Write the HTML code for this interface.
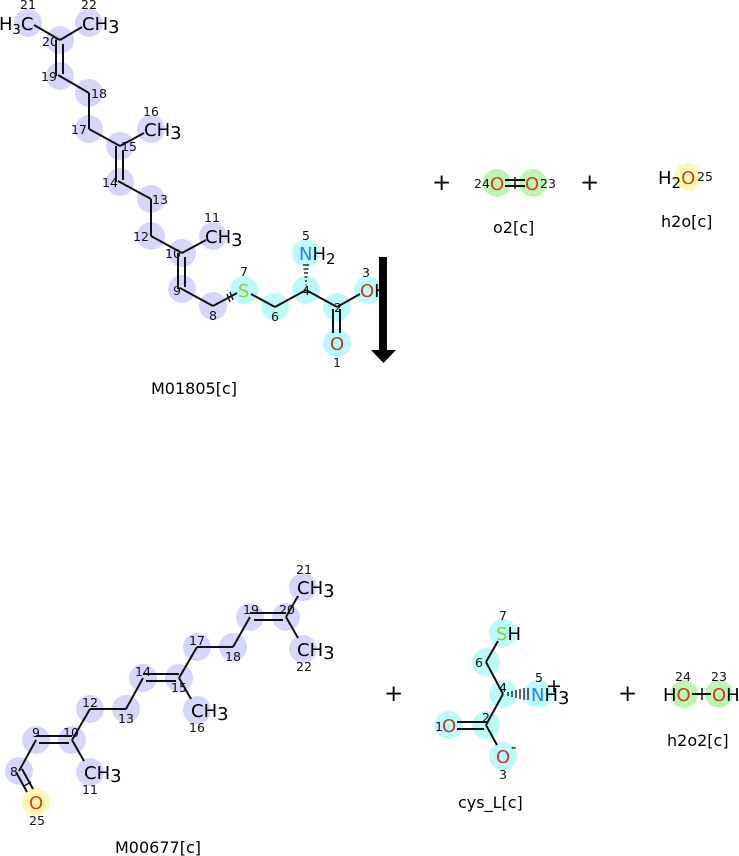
<!DOCTYPE html>
<html><head><meta charset="utf-8"><style>
html,body{margin:0;padding:0;background:#fff;width:739px;height:856px;overflow:hidden}
svg{display:block}
text{font-family:"DejaVu Sans","Liberation Sans",sans-serif}
.n{font-size:12.5px;fill:#111}
.e{font-size:18px}
.cap{font-size:16px;fill:#000}
.b{stroke:#111;stroke-width:2;fill:none}
</style></head><body>
<svg width="739" height="856" viewBox="0 0 739 856" xmlns="http://www.w3.org/2000/svg">
<g fill="#d6d6fb">
<circle cx="28" cy="23" r="14"/><circle cx="89" cy="23" r="14"/><circle cx="60" cy="40" r="14"/><circle cx="60" cy="76" r="14"/>
<circle cx="89" cy="93" r="14"/><circle cx="89" cy="129" r="14"/><circle cx="120" cy="146" r="14"/><circle cx="151" cy="129" r="14"/>
<circle cx="120" cy="182" r="14"/><circle cx="151" cy="199" r="14"/><circle cx="151" cy="236" r="14"/><circle cx="182" cy="253" r="14"/>
<circle cx="213" cy="236" r="14"/><circle cx="182" cy="289" r="14"/><circle cx="213" cy="306" r="14"/>
</g>
<g fill="#bcfafa">
<circle cx="244" cy="290" r="14"/><circle cx="275" cy="307" r="14"/><circle cx="306" cy="290" r="14"/><circle cx="306" cy="253" r="14"/>
<circle cx="337" cy="307" r="14"/><circle cx="368" cy="290" r="14"/><circle cx="337" cy="343" r="14"/>
</g>
<g class="b">
<line x1="34" y1="25" x2="60" y2="40"/><line x1="60" y1="40" x2="82" y2="27"/>
<line x1="56" y1="40" x2="56" y2="76"/><line x1="63" y1="44" x2="63" y2="74"/>
<line x1="58" y1="75" x2="89" y2="93"/><line x1="89" y1="93" x2="89" y2="129"/>
<line x1="89" y1="129" x2="120" y2="146"/><line x1="120" y1="146" x2="144" y2="133"/>
<line x1="116" y1="146" x2="116" y2="182"/><line x1="123" y1="150" x2="123" y2="180"/>
<line x1="118" y1="181" x2="151" y2="199"/><line x1="151" y1="199" x2="151" y2="236"/>
<line x1="151" y1="236" x2="182" y2="253"/><line x1="182" y1="253" x2="206" y2="240"/>
<line x1="178" y1="253" x2="178" y2="289"/><line x1="185" y1="257" x2="185" y2="287"/>
<line x1="180" y1="288" x2="213" y2="306"/><line x1="213" y1="306" x2="237" y2="293"/>
<line x1="251" y1="294" x2="275" y2="307"/><line x1="275" y1="307" x2="306" y2="290"/>
<line x1="306" y1="290" x2="337" y2="307"/><line x1="337" y1="307" x2="360" y2="294"/>
<line x1="333" y1="309" x2="333" y2="333"/><line x1="340" y1="309" x2="340" y2="333"/>
<line x1="227" y1="294" x2="230" y2="302" stroke-width="1.5"/><line x1="230" y1="292" x2="233" y2="300" stroke-width="1.5"/>
</g>
<g stroke="#111" stroke-width="1.3">
<line x1="303" y1="265" x2="309" y2="265"/><line x1="303.5" y1="269" x2="308.5" y2="269"/><line x1="304" y1="273" x2="308" y2="273"/>
<line x1="304.5" y1="277" x2="307.5" y2="277"/><line x1="305" y1="281" x2="307" y2="281"/><line x1="305.5" y1="285" x2="306.5" y2="285"/>
</g>
<g class="e">
<text x="-1" y="30" fill="#000">H<tspan font-size="13" dy="4">3</tspan><tspan dy="-4">C</tspan></text>
<text x="82" y="30" fill="#000">CH<tspan dy="3">3</tspan></text>
<text x="144" y="136" fill="#000">CH<tspan dy="3">3</tspan></text>
<text x="205" y="243" fill="#000">CH<tspan dy="3">3</tspan></text>
<text x="238" y="297" fill="#9acd32">S</text>
<text x="299" y="260" fill="#1e7fff">N<tspan fill="#000">H<tspan font-size="15" dy="4">2</tspan></tspan></text>
<text x="360" y="297" fill="#c0392b">O<tspan fill="#000">H</tspan></text>
<text x="330" y="350" fill="#c0392b">O</text>
</g>
<g class="n">
<text x="20" y="9">21</text><text x="81" y="9">22</text><text x="42" y="46">20</text><text x="41" y="81">19</text>
<text x="91" y="98">18</text><text x="71" y="134">17</text><text x="143" y="116">16</text><text x="121" y="151">15</text>
<text x="102" y="187">14</text><text x="152" y="204">13</text><text x="133" y="241">12</text><text x="165" y="258">10</text>
<text x="204" y="222">11</text><text x="173" y="295">9</text><text x="209" y="320">8</text><text x="240" y="276">7</text>
<text x="271" y="321">6</text><text x="302" y="295">4</text><text x="302" y="240">5</text><text x="334" y="312">2</text>
<text x="362" y="277">3</text><text x="333" y="367">1</text>
</g>
<rect x="379" y="257" width="8" height="94" fill="#000"/>
<polygon points="371,350 396,350 383.5,363" fill="#000"/>
<text class="cap" x="151" y="394">M01805[c]</text>
<text x="432" y="190" font-size="23" fill="#000">+</text>
<circle cx="497" cy="183" r="14" fill="#bef5b6"/><circle cx="533" cy="183" r="14" fill="#bef5b6"/>
<g class="b"><line x1="505" y1="180" x2="525" y2="180"/><line x1="505" y1="186" x2="525" y2="186"/><line x1="515" y1="177" x2="515" y2="189" stroke-width="1.5"/></g>
<text class="n" x="474" y="188">24</text><text class="n" x="540" y="188">23</text>
<text class="e" x="490" y="190" fill="#d5420e">O</text><text class="e" x="525" y="190" fill="#d5420e">O</text>
<text class="cap" x="493" y="233">o2[c]</text>
<text x="580" y="190" font-size="23" fill="#000">+</text>
<circle cx="688" cy="177" r="14" fill="#fafab8"/>
<text class="e" x="658" y="184" fill="#000">H<tspan font-size="15" dy="4">2</tspan><tspan dy="-4" fill="#d5420e">O</tspan></text>
<text class="n" x="697" y="181">25</text>
<text class="cap" x="661" y="227">h2o[c]</text>

<g fill="#d6d6fb">
<circle cx="303" cy="587" r="14"/><circle cx="286" cy="617" r="14"/><circle cx="250" cy="617" r="14"/><circle cx="303" cy="649" r="14"/>
<circle cx="197" cy="647" r="14"/><circle cx="233" cy="647" r="14"/><circle cx="143" cy="678" r="14"/><circle cx="179" cy="678" r="14"/>
<circle cx="197" cy="710" r="14"/><circle cx="90" cy="709" r="14"/><circle cx="126" cy="709" r="14"/><circle cx="36" cy="740" r="14"/>
<circle cx="72" cy="740" r="14"/><circle cx="90" cy="772" r="14"/><circle cx="19" cy="771" r="14"/>
</g>
<circle cx="36" cy="802" r="14" fill="#fafab8"/>
<g class="b">
<line x1="298" y1="596" x2="286" y2="617"/><line x1="286" y1="617" x2="298" y2="638"/>
<line x1="250" y1="613" x2="286" y2="613"/><line x1="254" y1="620" x2="283" y2="620"/>
<line x1="250" y1="617" x2="233" y2="647"/><line x1="233" y1="647" x2="197" y2="647"/><line x1="197" y1="647" x2="179" y2="678"/>
<line x1="143" y1="674" x2="179" y2="674"/><line x1="146" y1="681" x2="176" y2="681"/>
<line x1="179" y1="678" x2="191" y2="699"/>
<line x1="143" y1="678" x2="126" y2="709"/><line x1="126" y1="709" x2="90" y2="709"/><line x1="90" y1="709" x2="72" y2="740"/>
<line x1="36" y1="736" x2="72" y2="736"/><line x1="39" y1="743" x2="69" y2="743"/>
<line x1="72" y1="740" x2="84" y2="761"/>
<line x1="36" y1="740" x2="19" y2="771"/>
<line x1="16" y1="772" x2="27" y2="792"/><line x1="22" y1="769" x2="33" y2="789"/>
<line x1="24" y1="786" x2="31" y2="782" stroke-width="1.5"/>
</g>
<g class="e">
<text x="297" y="594" fill="#000">CH<tspan dy="3">3</tspan></text>
<text x="297" y="656" fill="#000">CH<tspan dy="3">3</tspan></text>
<text x="191" y="717" fill="#000">CH<tspan dy="3">3</tspan></text>
<text x="84" y="779" fill="#000">CH<tspan dy="3">3</tspan></text>
<text x="29" y="809" fill="#e8400c">O</text>
</g>
<g class="n">
<text x="296" y="574">21</text><text x="279" y="614">20</text><text x="243" y="614">19</text><text x="296" y="671">22</text>
<text x="189" y="645">17</text><text x="225" y="661">18</text><text x="135" y="676">14</text><text x="171" y="692">15</text>
<text x="189" y="732">16</text><text x="82" y="707">12</text><text x="118" y="723">13</text><text x="32" y="737">9</text>
<text x="63" y="737">10</text><text x="82" y="794">11</text><text x="10" y="776">8</text><text x="29" y="825">25</text>
</g>
<text class="cap" x="115" y="853">M00677[c]</text>
<text x="384" y="701" font-size="23" fill="#000">+</text>
<g fill="#bcfafa">
<circle cx="503" cy="633" r="14"/><circle cx="486" cy="662" r="14"/><circle cx="503" cy="694" r="14"/><circle cx="538" cy="694" r="14"/>
<circle cx="486" cy="725" r="14"/><circle cx="449" cy="725" r="14"/><circle cx="503" cy="756" r="14"/>
</g>
<g class="b">
<line x1="498" y1="641" x2="486" y2="662"/><line x1="486" y1="662" x2="503" y2="694"/><line x1="503" y1="694" x2="486" y2="725"/>
<line x1="457" y1="722" x2="486" y2="722"/><line x1="457" y1="729" x2="484" y2="729"/>
<line x1="486" y1="725" x2="497" y2="745"/>
</g>
<g stroke="#111" stroke-width="1.3">
<line x1="508" y1="692" x2="508" y2="696"/><line x1="512" y1="691" x2="512" y2="697"/><line x1="516" y1="690" x2="516" y2="698"/>
<line x1="520" y1="689" x2="520" y2="699"/><line x1="524" y1="688" x2="524" y2="700"/><line x1="528" y1="688" x2="528" y2="700"/>
</g>
<g class="e">
<text x="496" y="640" fill="#9acd32">S<tspan fill="#000">H</tspan></text>
<text x="531" y="701" fill="#1e7fff">N<tspan fill="#000">H<tspan dy="3">3</tspan></tspan></text>
<text x="442" y="732" fill="#c0392b">O</text>
<text x="496" y="763" fill="#c0392b">O</text>
</g>
<text x="546" y="692" font-size="19" fill="#000">+</text>
<text x="511" y="752" font-size="15" fill="#000">-</text>
<g class="n">
<text x="499" y="620">7</text><text x="475" y="667">6</text><text x="499" y="692">4</text><text x="535" y="682">5</text>
<text x="482" y="722">2</text><text x="435" y="731">1</text><text x="499" y="779">3</text>
</g>
<text class="cap" x="458" y="808">cys_L[c]</text>
<text x="618" y="701" font-size="23" fill="#000">+</text>
<circle cx="684" cy="694" r="14" fill="#bef5b6"/><circle cx="719" cy="694" r="14" fill="#bef5b6"/>
<g class="b"><line x1="692" y1="694" x2="711" y2="694"/><line x1="702" y1="688" x2="702" y2="700" stroke-width="1.5"/></g>
<text class="n" x="675" y="681">24</text><text class="n" x="711" y="681">23</text>
<text class="e" x="663" y="701" fill="#000">H<tspan fill="#c7400c">O</tspan></text>
<text class="e" x="712" y="701" fill="#c7400c">O<tspan fill="#000">H</tspan></text>
<text class="cap" x="667" y="746">h2o2[c]</text>
</svg>
</body></html>
